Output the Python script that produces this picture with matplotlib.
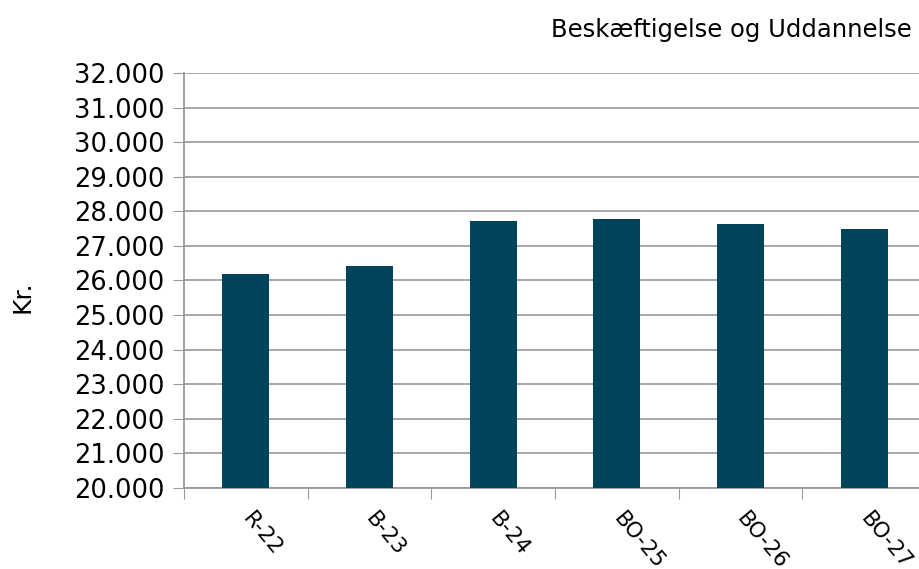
import matplotlib
matplotlib.use('Agg')
import matplotlib.pyplot as plt
import matplotlib.transforms as mtransforms
from matplotlib.ticker import FuncFormatter

# Values
categories = ['R-22', 'B-23', 'B-24', 'BO-25', 'BO-26', 'BO-27']
values = [26180, 26430, 27730, 27770, 27625, 27480]
y_ticks = list(range(20000, 32001, 1000))

plt.rcParams['font.family'] = ['DejaVu Sans']

fig = plt.figure(figsize=(9.19, 5.69), dpi=100)
ax = fig.add_axes([0.2002, 0.1424, 0.8074, 0.7293])

x = list(range(len(categories)))
ax.bar(x, values, width=0.38, color='#00445C', zorder=3)

ax.set_xlim(-0.5, len(categories) - 0.5)
ax.set_ylim(20000, 32000)
ax.set_yticks(y_ticks)
ax.yaxis.set_major_formatter(FuncFormatter(lambda v, p: f'{int(v):,}'.replace(',', '.')))
ax.tick_params(axis='y', labelsize=18.5, length=8, color='#999999', pad=6)
ax.grid(axis='y', color='#a0a0a0', linewidth=1.3, zorder=0)

# category labels centred, tick marks between categories
ax.set_xticks([i - 0.5 for i in range(len(categories) + 1)])
ax.set_xticklabels([])
ax.set_xticks(x, minor=True)
ax.set_xticklabels(categories, minor=True, rotation=-50, ha='left',
                   rotation_mode='anchor', fontsize=15.5)
ax.tick_params(axis='x', which='major', length=8, color='#999999')
ax.tick_params(axis='x', which='minor', length=0, pad=15)
shift = mtransforms.ScaledTranslation(8 / 100, 0, fig.dpi_scale_trans)
for lbl in ax.get_xticklabels(minor=True):
    lbl.set_transform(lbl.get_transform() + shift)

for side in ['top', 'right']:
    ax.spines[side].set_visible(False)
ax.spines['left'].set_color('#999999')
ax.spines['bottom'].set_color('#999999')
ax.spines['left'].set_linewidth(1.3)
ax.spines['bottom'].set_linewidth(1.3)

fig.text(0.025, 0.478, 'Kr.', rotation=90, fontsize=18, ha='center', va='center')
fig.text(0.992, 0.947, 'Beskæftigelse og Uddannelse', fontsize=17.5, ha='right', va='center')

fig.savefig('out.png', dpi=100)
